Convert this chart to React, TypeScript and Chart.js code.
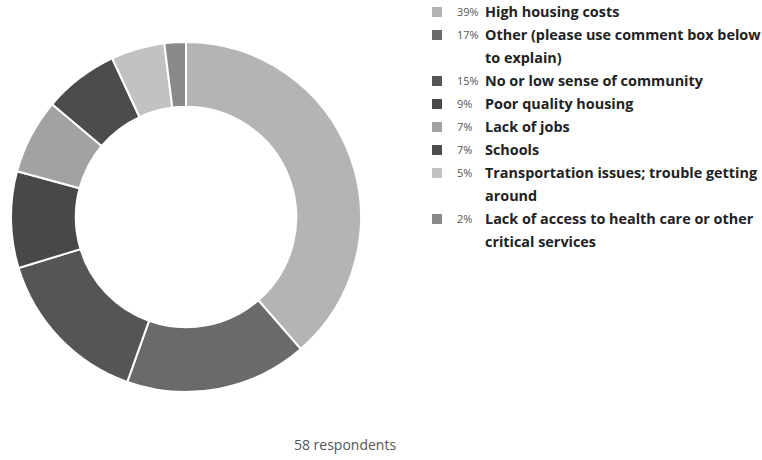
import React, { useEffect, useRef } from "react";
import { Chart, registerables } from "chart.js";

Chart.register(...registerables);

const categories = [
  "High housing costs",
  "Other (please use comment box below to explain)",
  "No or low sense of community",
  "Poor quality housing",
  "Lack of jobs",
  "Schools",
  "Transportation issues; trouble getting around",
  "Lack of access to health care or other critical services",
];
const percentLabels = ["39%", "17%", "15%", "9%", "7%", "7%", "5%", "2%"];
const values = [39, 17, 15, 9, 7, 7, 5, 2];
const colors = ["#b4b4b4", "#6a6a6a", "#555555", "#484848", "#a2a2a2", "#4c4c4c", "#c2c2c2", "#8a8a8a"];
const footerText = "58 respondents";

export default function App() {
  const canvasRef = useRef<HTMLCanvasElement | null>(null);

  useEffect(() => {
    if (!canvasRef.current) return;
    const chart = new Chart(canvasRef.current, {
      type: "doughnut",
      data: {
        labels: categories,
        datasets: [
          {
            data: values,
            backgroundColor: colors,
            borderColor: "#ffffff",
            borderWidth: 2,
          },
        ],
      },
      options: {
        animation: false,
        responsive: false,
        maintainAspectRatio: false,
        cutout: "63%",
        layout: { padding: 0 },
        plugins: {
          legend: { display: false },
          tooltip: { enabled: false },
        },
      },
    });
    return () => chart.destroy();
  }, []);

  return (
    <div
      style={{
        position: "absolute",
        left: 0,
        top: 0,
        width: 762,
        height: 460,
        background: "#fff",
        fontFamily: "'Open Sans', sans-serif",
        overflow: "hidden",
      }}
    >
      <canvas
        ref={canvasRef}
        width={352}
        height={352}
        style={{ position: "absolute", left: 10, top: 41, width: 352, height: 352 }}
      />
      <div style={{ position: "absolute", left: 432, top: 0, width: 340 }}>
        {categories.map((c, i) => (
          <div key={c} style={{ display: "flex", alignItems: "flex-start", lineHeight: "23px" }}>
            <div
              style={{
                width: 10,
                height: 10,
                marginTop: 7,
                background: colors[i],
                flex: "0 0 auto",
              }}
            />
            <div
              style={{
                width: 28,
                marginLeft: 15,
                fontSize: 11,
                color: "#555",
                flex: "0 0 auto",
              }}
            >
              {percentLabels[i]}
            </div>
            <div
              style={{
                width: 279,
                fontSize: 14.4,
                fontWeight: 700,
                color: "#222",
              }}
            >
              {c}
            </div>
          </div>
        ))}
      </div>
      <div
        style={{
          position: "absolute",
          left: 0,
          width: 690,
          top: 435,
          textAlign: "center",
          fontSize: 14,
          color: "#555",
        }}
      >
        {footerText}
      </div>
    </div>
  );
}
